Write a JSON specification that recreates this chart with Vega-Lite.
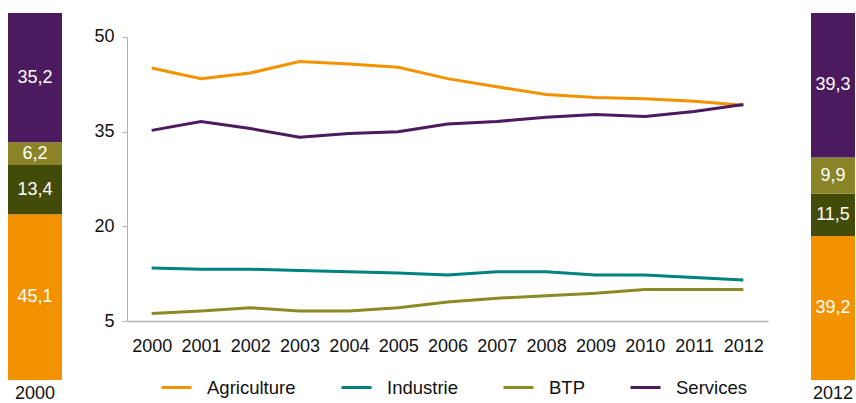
{
  "$schema": "https://vega.github.io/schema/vega-lite/v6.json",
  "padding": {"left": 8, "top": 13, "right": 0, "bottom": 0},
  "background": "white",
  "config": {
    "view": {"stroke": null},
    "locale": {"number": {"decimal": ",", "thousands": "\u00a0", "grouping": [3], "currency": ["", " €"]}},
    "axis": {"labelFont": "Liberation Sans", "labelFontSize": 18, "labelColor": "#111111", "title": null},
    "text": {"font": "Liberation Sans"}
  },
  "datasets": {
    "lines": [
      {"year": 2000, "sector": "Agriculture", "value": 45.1},
      {"year": 2001, "sector": "Agriculture", "value": 43.4},
      {"year": 2002, "sector": "Agriculture", "value": 44.3},
      {"year": 2003, "sector": "Agriculture", "value": 46.1},
      {"year": 2004, "sector": "Agriculture", "value": 45.7},
      {"year": 2005, "sector": "Agriculture", "value": 45.2},
      {"year": 2006, "sector": "Agriculture", "value": 43.4},
      {"year": 2007, "sector": "Agriculture", "value": 42.1},
      {"year": 2008, "sector": "Agriculture", "value": 40.9},
      {"year": 2009, "sector": "Agriculture", "value": 40.4},
      {"year": 2010, "sector": "Agriculture", "value": 40.2},
      {"year": 2011, "sector": "Agriculture", "value": 39.8},
      {"year": 2012, "sector": "Agriculture", "value": 39.2},
      {"year": 2000, "sector": "Industrie", "value": 13.4},
      {"year": 2001, "sector": "Industrie", "value": 13.2},
      {"year": 2002, "sector": "Industrie", "value": 13.2},
      {"year": 2003, "sector": "Industrie", "value": 13.0},
      {"year": 2004, "sector": "Industrie", "value": 12.8},
      {"year": 2005, "sector": "Industrie", "value": 12.6},
      {"year": 2006, "sector": "Industrie", "value": 12.3},
      {"year": 2007, "sector": "Industrie", "value": 12.8},
      {"year": 2008, "sector": "Industrie", "value": 12.8},
      {"year": 2009, "sector": "Industrie", "value": 12.3},
      {"year": 2010, "sector": "Industrie", "value": 12.3},
      {"year": 2011, "sector": "Industrie", "value": 11.9},
      {"year": 2012, "sector": "Industrie", "value": 11.5},
      {"year": 2000, "sector": "BTP", "value": 6.2},
      {"year": 2001, "sector": "BTP", "value": 6.6},
      {"year": 2002, "sector": "BTP", "value": 7.1},
      {"year": 2003, "sector": "BTP", "value": 6.6},
      {"year": 2004, "sector": "BTP", "value": 6.6},
      {"year": 2005, "sector": "BTP", "value": 7.1},
      {"year": 2006, "sector": "BTP", "value": 8.0},
      {"year": 2007, "sector": "BTP", "value": 8.6},
      {"year": 2008, "sector": "BTP", "value": 9.0},
      {"year": 2009, "sector": "BTP", "value": 9.4},
      {"year": 2010, "sector": "BTP", "value": 10.0},
      {"year": 2011, "sector": "BTP", "value": 10.0},
      {"year": 2012, "sector": "BTP", "value": 10.0},
      {"year": 2000, "sector": "Services", "value": 35.2},
      {"year": 2001, "sector": "Services", "value": 36.6},
      {"year": 2002, "sector": "Services", "value": 35.5},
      {"year": 2003, "sector": "Services", "value": 34.1},
      {"year": 2004, "sector": "Services", "value": 34.7},
      {"year": 2005, "sector": "Services", "value": 35.0},
      {"year": 2006, "sector": "Services", "value": 36.2},
      {"year": 2007, "sector": "Services", "value": 36.6},
      {"year": 2008, "sector": "Services", "value": 37.3},
      {"year": 2009, "sector": "Services", "value": 37.7},
      {"year": 2010, "sector": "Services", "value": 37.4},
      {"year": 2011, "sector": "Services", "value": 38.2},
      {"year": 2012, "sector": "Services", "value": 39.3}
    ],
    "bars": [
      {"year": 2000, "sector": "Agriculture", "rank": 1, "value": 45.1},
      {"year": 2000, "sector": "Industrie", "rank": 2, "value": 13.4},
      {"year": 2000, "sector": "BTP", "rank": 3, "value": 6.2},
      {"year": 2000, "sector": "Services", "rank": 4, "value": 35.2},
      {"year": 2012, "sector": "Agriculture", "rank": 1, "value": 39.2},
      {"year": 2012, "sector": "Industrie", "rank": 2, "value": 11.5},
      {"year": 2012, "sector": "BTP", "rank": 3, "value": 9.9},
      {"year": 2012, "sector": "Services", "rank": 4, "value": 39.3}
    ]
  },
  "resolve": {"scale": {"color": "independent", "x": "independent", "y": "independent"}, "legend": {"color": "independent"}},
  "spacing": 43,
  "hconcat": [
    {
      "spacing": 31,
      "resolve": {"scale": {"color": "independent", "x": "independent", "y": "independent"}, "legend": {"color": "independent"}},
      "hconcat": [
        {
          "width": 54,
          "height": 367,
          "data": {"name": "bars"},
          "transform": [
            {"filter": "datum.year == 2000"},
            {"stack": "value", "groupby": ["year"], "sort": [{"field": "rank", "order": "ascending"}], "as": ["v0", "v1"], "offset": "normalize"},
            {"calculate": "(datum.v0 + datum.v1) / 2", "as": "mid"}
          ],
          "encoding": {
            "x": {"field": "year", "type": "nominal", "scale": {"paddingInner": 0, "paddingOuter": 0}, "axis": {"domain": false, "ticks": false, "labelPadding": 4, "labelAngle": 0}}
          },
          "layer": [
            {
              "mark": {"type": "bar"},
              "encoding": {
                "y": {"field": "v0", "type": "quantitative", "scale": {"domain": [0, 1], "nice": false}, "axis": null},
                "y2": {"field": "v1"},
                "color": {"field": "sector", "type": "nominal", "scale": {"domain": ["Agriculture", "Industrie", "BTP", "Services"], "range": ["#F39200", "#434B08", "#8A8426", "#4C1A5F"]}, "legend": null}
              }
            },
            {
              "mark": {"type": "text", "color": "white", "fontSize": 18, "baseline": "middle"},
              "encoding": {
                "y": {"field": "mid", "type": "quantitative", "scale": {"domain": [0, 1], "nice": false}, "axis": null},
                "text": {"field": "value", "type": "quantitative", "format": ".1f"}
              }
            }
          ]
        },
        {
          "width": 641,
          "height": 308,
          "data": {"name": "lines"},
          "mark": {"type": "line", "strokeWidth": 3},
          "encoding": {
            "x": {"field": "year", "type": "ordinal", "scale": {"type": "point", "padding": 0.5}, "axis": {"labelAngle": 0, "domainColor": "#b0b0b0", "domainWidth": 1.5, "ticks": false, "labelPadding": 16}},
            "y": {"field": "value", "type": "quantitative", "scale": {"domain": [5, 53.8], "nice": false, "zero": false}, "axis": {"values": [5, 20, 35, 50], "grid": false, "domainColor": "#b0b0b0", "domainDash": [284, 400], "tickColor": "#b0b0b0", "tickSize": 5, "labelPadding": 8}},
            "color": {
              "field": "sector", "type": "nominal",
              "scale": {"domain": ["Agriculture", "Industrie", "BTP", "Services"], "range": ["#F39200", "#00827F", "#8C8A25", "#4C1A5F"]},
              "legend": {"orient": "none", "legendX": 33, "legendY": 358, "direction": "horizontal", "title": null, "symbolType": "stroke", "symbolSize": 900, "symbolStrokeWidth": 3, "labelFont": "Liberation Sans", "labelFontSize": 18.5, "labelColor": "#111111", "labelOffset": 14, "columnPadding": 39}
            }
          }
        }
      ]
    },
    {
      "width": 44,
      "height": 367,
      "data": {"name": "bars"},
      "transform": [
        {"filter": "datum.year == 2012"},
        {"stack": "value", "groupby": ["year"], "sort": [{"field": "rank", "order": "ascending"}], "as": ["v0", "v1"], "offset": "normalize"},
        {"calculate": "(datum.v0 + datum.v1) / 2", "as": "mid"}
      ],
      "encoding": {
        "x": {"field": "year", "type": "nominal", "scale": {"paddingInner": 0, "paddingOuter": 0}, "axis": {"domain": false, "ticks": false, "labelPadding": 4, "labelAngle": 0}}
      },
      "layer": [
        {
          "mark": {"type": "bar"},
          "encoding": {
            "y": {"field": "v0", "type": "quantitative", "scale": {"domain": [0, 1], "nice": false}, "axis": null},
            "y2": {"field": "v1"},
            "color": {"field": "sector", "type": "nominal", "scale": {"domain": ["Agriculture", "Industrie", "BTP", "Services"], "range": ["#F39200", "#434B08", "#8A8426", "#4C1A5F"]}, "legend": null}
          }
        },
        {
          "mark": {"type": "text", "color": "white", "fontSize": 18, "baseline": "middle"},
          "encoding": {
            "y": {"field": "mid", "type": "quantitative", "scale": {"domain": [0, 1], "nice": false}, "axis": null},
            "text": {"field": "value", "type": "quantitative", "format": ".1f"}
          }
        }
      ]
    }
  ]
}
